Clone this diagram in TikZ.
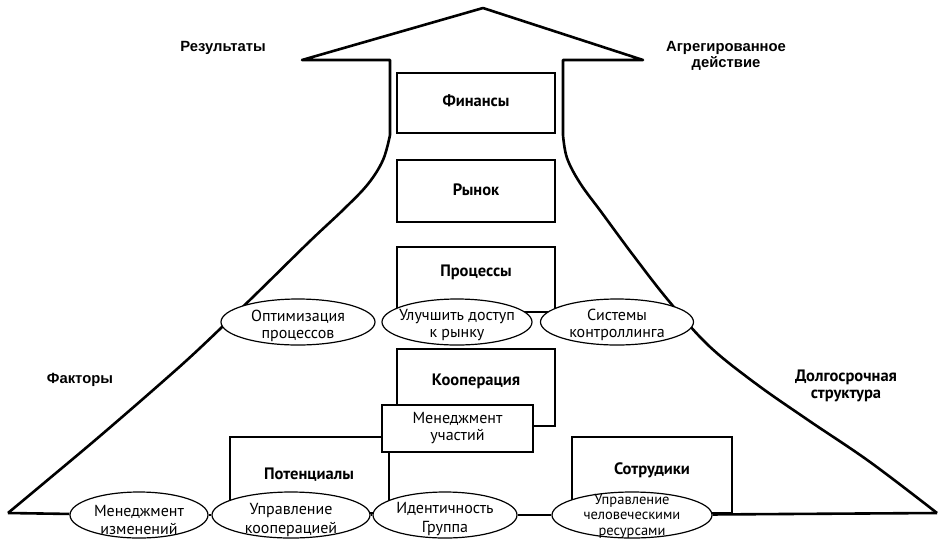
\documentclass[tikz,border=0pt]{standalone}
\usepackage{fontspec}
\setmainfont{PT Sans}
\newfontfamily\arialf{Liberation Sans}
\usetikzlibrary{shapes.geometric}
\tikzset{
  outline/.style={line width=2.6pt, line join=round},
  box/.style={draw, rectangle, line width=1.2pt, inner sep=0pt},
  wbox/.style={box, fill=white},
  ell/.style={draw, ellipse, fill=white, line width=1.2pt, inner sep=0pt, minimum height=46pt},
  boxtext/.style={font=\bfseries\fontsize{16.5}{17}\selectfont, align=center},
  etext/.style={font=\fontsize{16}{17}\selectfont, align=center, inner sep=0pt},
  btext/.style={font=\fontsize{16}{18.5}\selectfont, align=center, inner sep=0pt},
  ttext/.style={font=\fontsize{14.5}{15.5}\selectfont, align=center, inner sep=0pt},
  toplbl/.style={font=\arialf\bfseries\fontsize{14.8}{16}\selectfont, align=center},
  thickline/.style={line width=2.6pt}
}
\begin{document}
\begin{tikzpicture}[x=1pt,y=-1pt]
\useasboundingbox (0,0) rectangle (939,539);
% outline arrow
\draw[outline] plot[smooth,tension=0.6] coordinates {(8,513) (50,478) (100,436) (160,384) (200,348) (255,295) (309,242) (344,209) (368,184) (383,160) (390,135)}
  -- (390,60) -- (302,60) -- (483,8) -- (643,60) -- (563,60) -- (563,135)
  -- plot[smooth,tension=0.6] coordinates {(563,135) (567,158) (580,183) (602,213) (633,255) (668,300) (708,345) (755,383) (808,420) (870,462) (937,513)};
\coordinate (bl) at (8,513);
\coordinate (br) at (937,513);
% boxes
\node[box, minimum width=158pt, minimum height=60pt] (fin) at (476,103) {};
\node[boxtext] (finT) at (476,101) {Финансы};
\node[box, minimum width=158pt, minimum height=62pt] (ryn) at (476,191) {};
\node[boxtext] (rynT) at (476,190) {Рынок};
\node[box, minimum width=158pt, minimum height=65pt] (proc) at (476,279.5) {};
\node[boxtext] (procT) at (476,272) {Процессы};
\node[box, minimum width=158pt, minimum height=77pt] (koop) at (476,387.5) {};
\node[boxtext] (koopT) at (476,381) {Кооперация};
\node[box, minimum width=159pt, minimum height=76pt] (pot) at (309.5,475) {};
\node[boxtext] (potT) at (309,475) {Потенциалы};
\node[box, minimum width=160pt, minimum height=76pt] (sotr) at (652,475) {};
\node[boxtext] (sotrT) at (652,470) {Сотрудики};
\node[wbox, minimum width=151pt, minimum height=47pt, font=\fontsize{16}{17}\selectfont, align=center] (mgu) at (457.5,428.5) {Менеджмент\\участий};
% middle ellipses
\node[ell, minimum width=154pt, label={[etext,yshift=-4pt]center:Оптимизация\\процессов}] (e5) at (298,322) {};
\node[ell, minimum width=150pt, label={[etext,yshift=-3pt]center:Улучшить доступ\\к рынку}] (e6) at (457,322) {};
\node[ell, minimum width=153pt, label={[etext,yshift=-3pt]center:Системы\\контроллинга}] (e7) at (617,322) {};
% bottom ellipses
\node[ell, minimum width=138pt, label={[btext,yshift=-5pt]center:Менеджмент\\изменений}] (e1) at (139,515) {};
\node[ell, minimum width=158pt, label={[btext,yshift=-5pt]center:Управление\\кооперацией}] (e2) at (291,515) {};
\node[ell, minimum width=144pt, label={[btext,yshift=-4pt]center:Идентичность\\Группа}] (e3) at (445,515) {};
\node[ell, minimum width=160pt, label={[ttext,yshift=-1pt]center:Управление\\человеческими\\ресурсами}] (e4) at (632,515) {};
% bottom connectors
\draw[thickline] (bl) -- (e1);
\draw[thickline] (e1) -- (e2);
\draw[thickline] (e2) -- (e3);
\draw[thickline] (e3) -- (e4);
\draw[thickline] (e4) -- (br);
% side labels
\node[toplbl] (res) at (223,48) {Результаты};
\node[toplbl] (agg) at (726,56) {Агрегированное\\действие};
\node[toplbl] (fak) at (80,380) {Факторы};
\node[boxtext] (dolg) at (846,386) {Долгосрочная\\структура};
\end{tikzpicture}
\end{document}
